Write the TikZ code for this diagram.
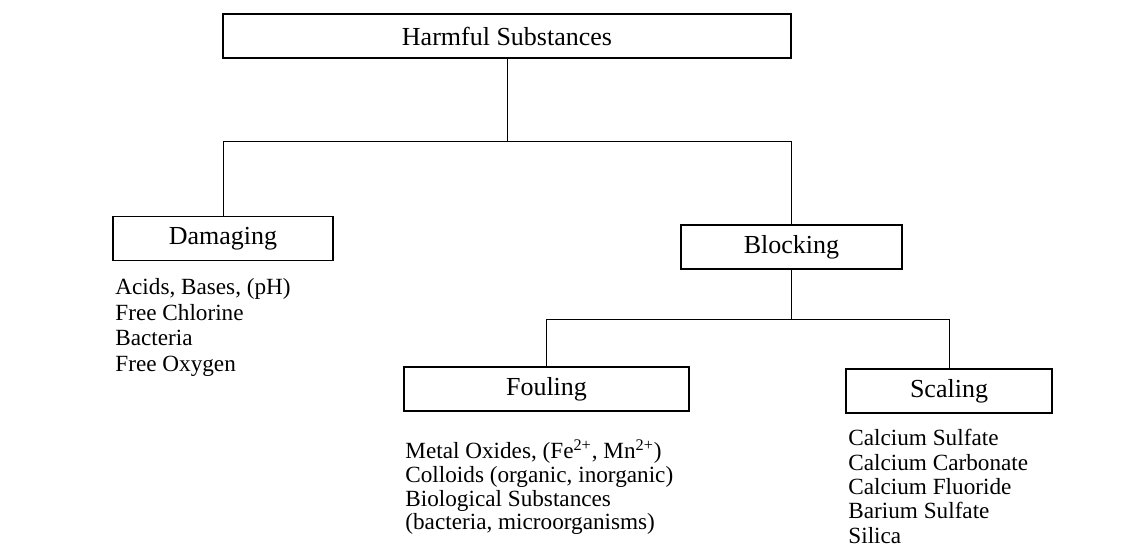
\documentclass[tikz,border=0pt]{standalone}
\usepackage{fontspec}
\setmainfont{Liberation Serif}
\usepackage{tikz}

\begin{document}
\begin{tikzpicture}[
    x=0.5pt, y=-0.5pt,
    group/.style={draw, line width=0.6pt, inner sep=0pt, minimum height=22pt, font=\fontsize{13}{15}\selectfont},
    items/.style={anchor=north west, inner sep=0pt, align=left}
]
    \useasboundingbox (0,0) rectangle (1145,548);

    % Define category boxes
    \node[group, minimum width=284pt] (harmful) at (507,36) {Harmful Substances};
    \node[group, minimum width=110pt] (damaging) at (223,238.5) {Damaging};
    \node[group, minimum width=110.5pt] (blocking) at (791.5,247) {Blocking};
    \node[group, minimum width=142.5pt] (fouling) at (546.5,389) {Fouling};
    \node[group, minimum width=103pt] (scaling) at (949,391) {Scaling};

    % Junctions of the tree
    \coordinate (j1) at (507,141);
    \coordinate (j2) at (791.5,319);

    % Draw connectors between boxes
    \draw[line width=0.5pt] (harmful.south) -- (j1);
    \draw[line width=0.5pt] (damaging.north) |- (j1) -| (blocking.north);
    \draw[line width=0.5pt] (blocking.south) -- (j2);
    \draw[line width=0.5pt] (fouling.north) |- (j2) -| (scaling.north);

    % Substance lists under the boxes
    \node[items, font=\fontsize{11.6}{12.85}\selectfont] (damlist) at (115,278)
        {Acids, Bases, (pH)\\Free Chlorine\\Bacteria\\Free Oxygen};
    \node[items, font=\fontsize{11.6}{11.85}\selectfont] (foullist) at (405,439)
        {Metal Oxides, (Fe\textsuperscript{2+}, Mn\textsuperscript{2+})\\Colloids (organic, inorganic)\\Biological Substances\\(bacteria, microorganisms)};
    \node[items, font=\fontsize{11.6}{12.2}\selectfont] (scallist) at (848,429)
        {Calcium Sulfate\\Calcium Carbonate\\Calcium Fluoride\\Barium Sulfate\\Silica};
\end{tikzpicture}
\end{document}
